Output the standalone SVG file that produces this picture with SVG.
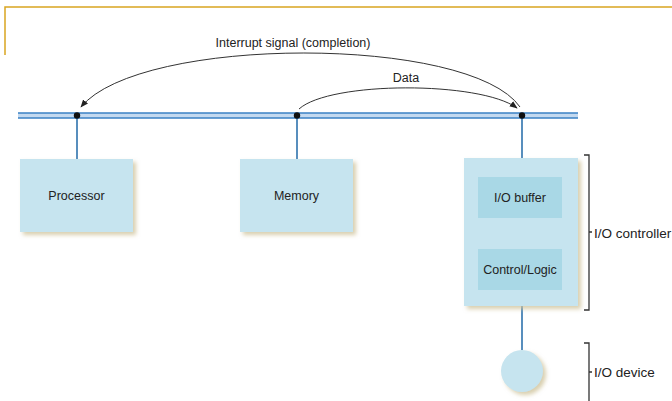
<svg xmlns="http://www.w3.org/2000/svg" width="672" height="401" viewBox="0 0 672 401">
<style>
text{font-family:"Liberation Sans",Arial,sans-serif;font-size:12.5px;fill:#222}
.side{font-size:13.5px}
.box{fill:#c6e4ef;filter:url(#sh)}
.inner{fill:#a9d8e6}
.stub{stroke:#2e72ad;stroke-width:1.6;fill:none}
.arc{stroke:#333;stroke-width:1;fill:none;marker-end:url(#ah)}
.brace{stroke:#333;stroke-width:1.3;fill:none}
</style>
<defs>
<filter id="sh" x="-10%" y="-10%" width="130%" height="130%">
<feDropShadow dx="3" dy="3" stdDeviation="2" flood-color="#cfc39a" flood-opacity="0.8"/>
</filter>
<marker id="ah" viewBox="0 0 10 10" refX="9" refY="5" markerWidth="8" markerHeight="8" orient="auto" markerUnits="userSpaceOnUse">
<path d="M0,1 L10,5 L0,9 z" fill="#222"/>
</marker>
</defs>
<rect width="672" height="401" fill="#fff"/>
<g id="frame" stroke="#d9a520" stroke-width="1.5" fill="none">
<path d="M5,55 V7 H672"/>
</g>
<g id="bus">
<rect x="18" y="113" width="560" height="5" fill="#c3d9f0"/>
<line x1="18" y1="113" x2="578" y2="113" stroke="#3a80c4" stroke-width="1.5"/>
<line x1="18" y1="118" x2="578" y2="118" stroke="#3a80c4" stroke-width="1.5"/>
</g>
<g id="connectors">
<line class="stub" x1="77" y1="116" x2="77" y2="159"/>
<line class="stub" x1="297" y1="116" x2="297" y2="159"/>
<line class="stub" x1="522" y1="116" x2="522" y2="158"/>
<line class="stub" x1="522" y1="306" x2="522" y2="350"/>
<path class="arc" d="M520,107 C470,35 140,35 81,107"/>
<path class="arc" d="M299,109 C330,81 480,81 517,108"/>
<circle cx="77" cy="115.5" r="3.2" fill="#111"/>
<circle cx="297" cy="115.5" r="3.2" fill="#111"/>
<circle cx="522" cy="115.5" r="3.2" fill="#111"/>
</g>
<g id="labels">
<text x="293" y="47" text-anchor="middle">Interrupt signal (completion)</text>
<text x="406" y="82" text-anchor="middle">Data</text>
</g>
<g id="processor">
<rect class="box" x="20" y="159" width="113" height="73"/>
<text x="76.5" y="200" text-anchor="middle">Processor</text>
</g>
<g id="memory">
<rect class="box" x="240" y="159" width="113" height="73"/>
<text x="296.5" y="200" text-anchor="middle">Memory</text>
</g>
<g id="io-controller">
<rect class="box" x="464" y="158" width="114" height="148"/>
<rect class="inner" x="478" y="177" width="84" height="41"/>
<text x="520" y="202" text-anchor="middle">I/O buffer</text>
<rect class="inner" x="478" y="249" width="84" height="41"/>
<text x="520" y="274" text-anchor="middle">Control/Logic</text>
<path class="brace" d="M584,155 H589 V232 H592 M589,232 V310 H584"/>
<text class="side" x="594" y="238">I/O controller</text>
</g>
<g id="io-device">
<circle cx="522" cy="371" r="21" fill="#c6e4ef" filter="url(#sh)"/>
<path class="brace" d="M584,343 H589 V372 H592 M589,372 V401"/>
<text class="side" x="594" y="377">I/O device</text>
</g>
</svg>
